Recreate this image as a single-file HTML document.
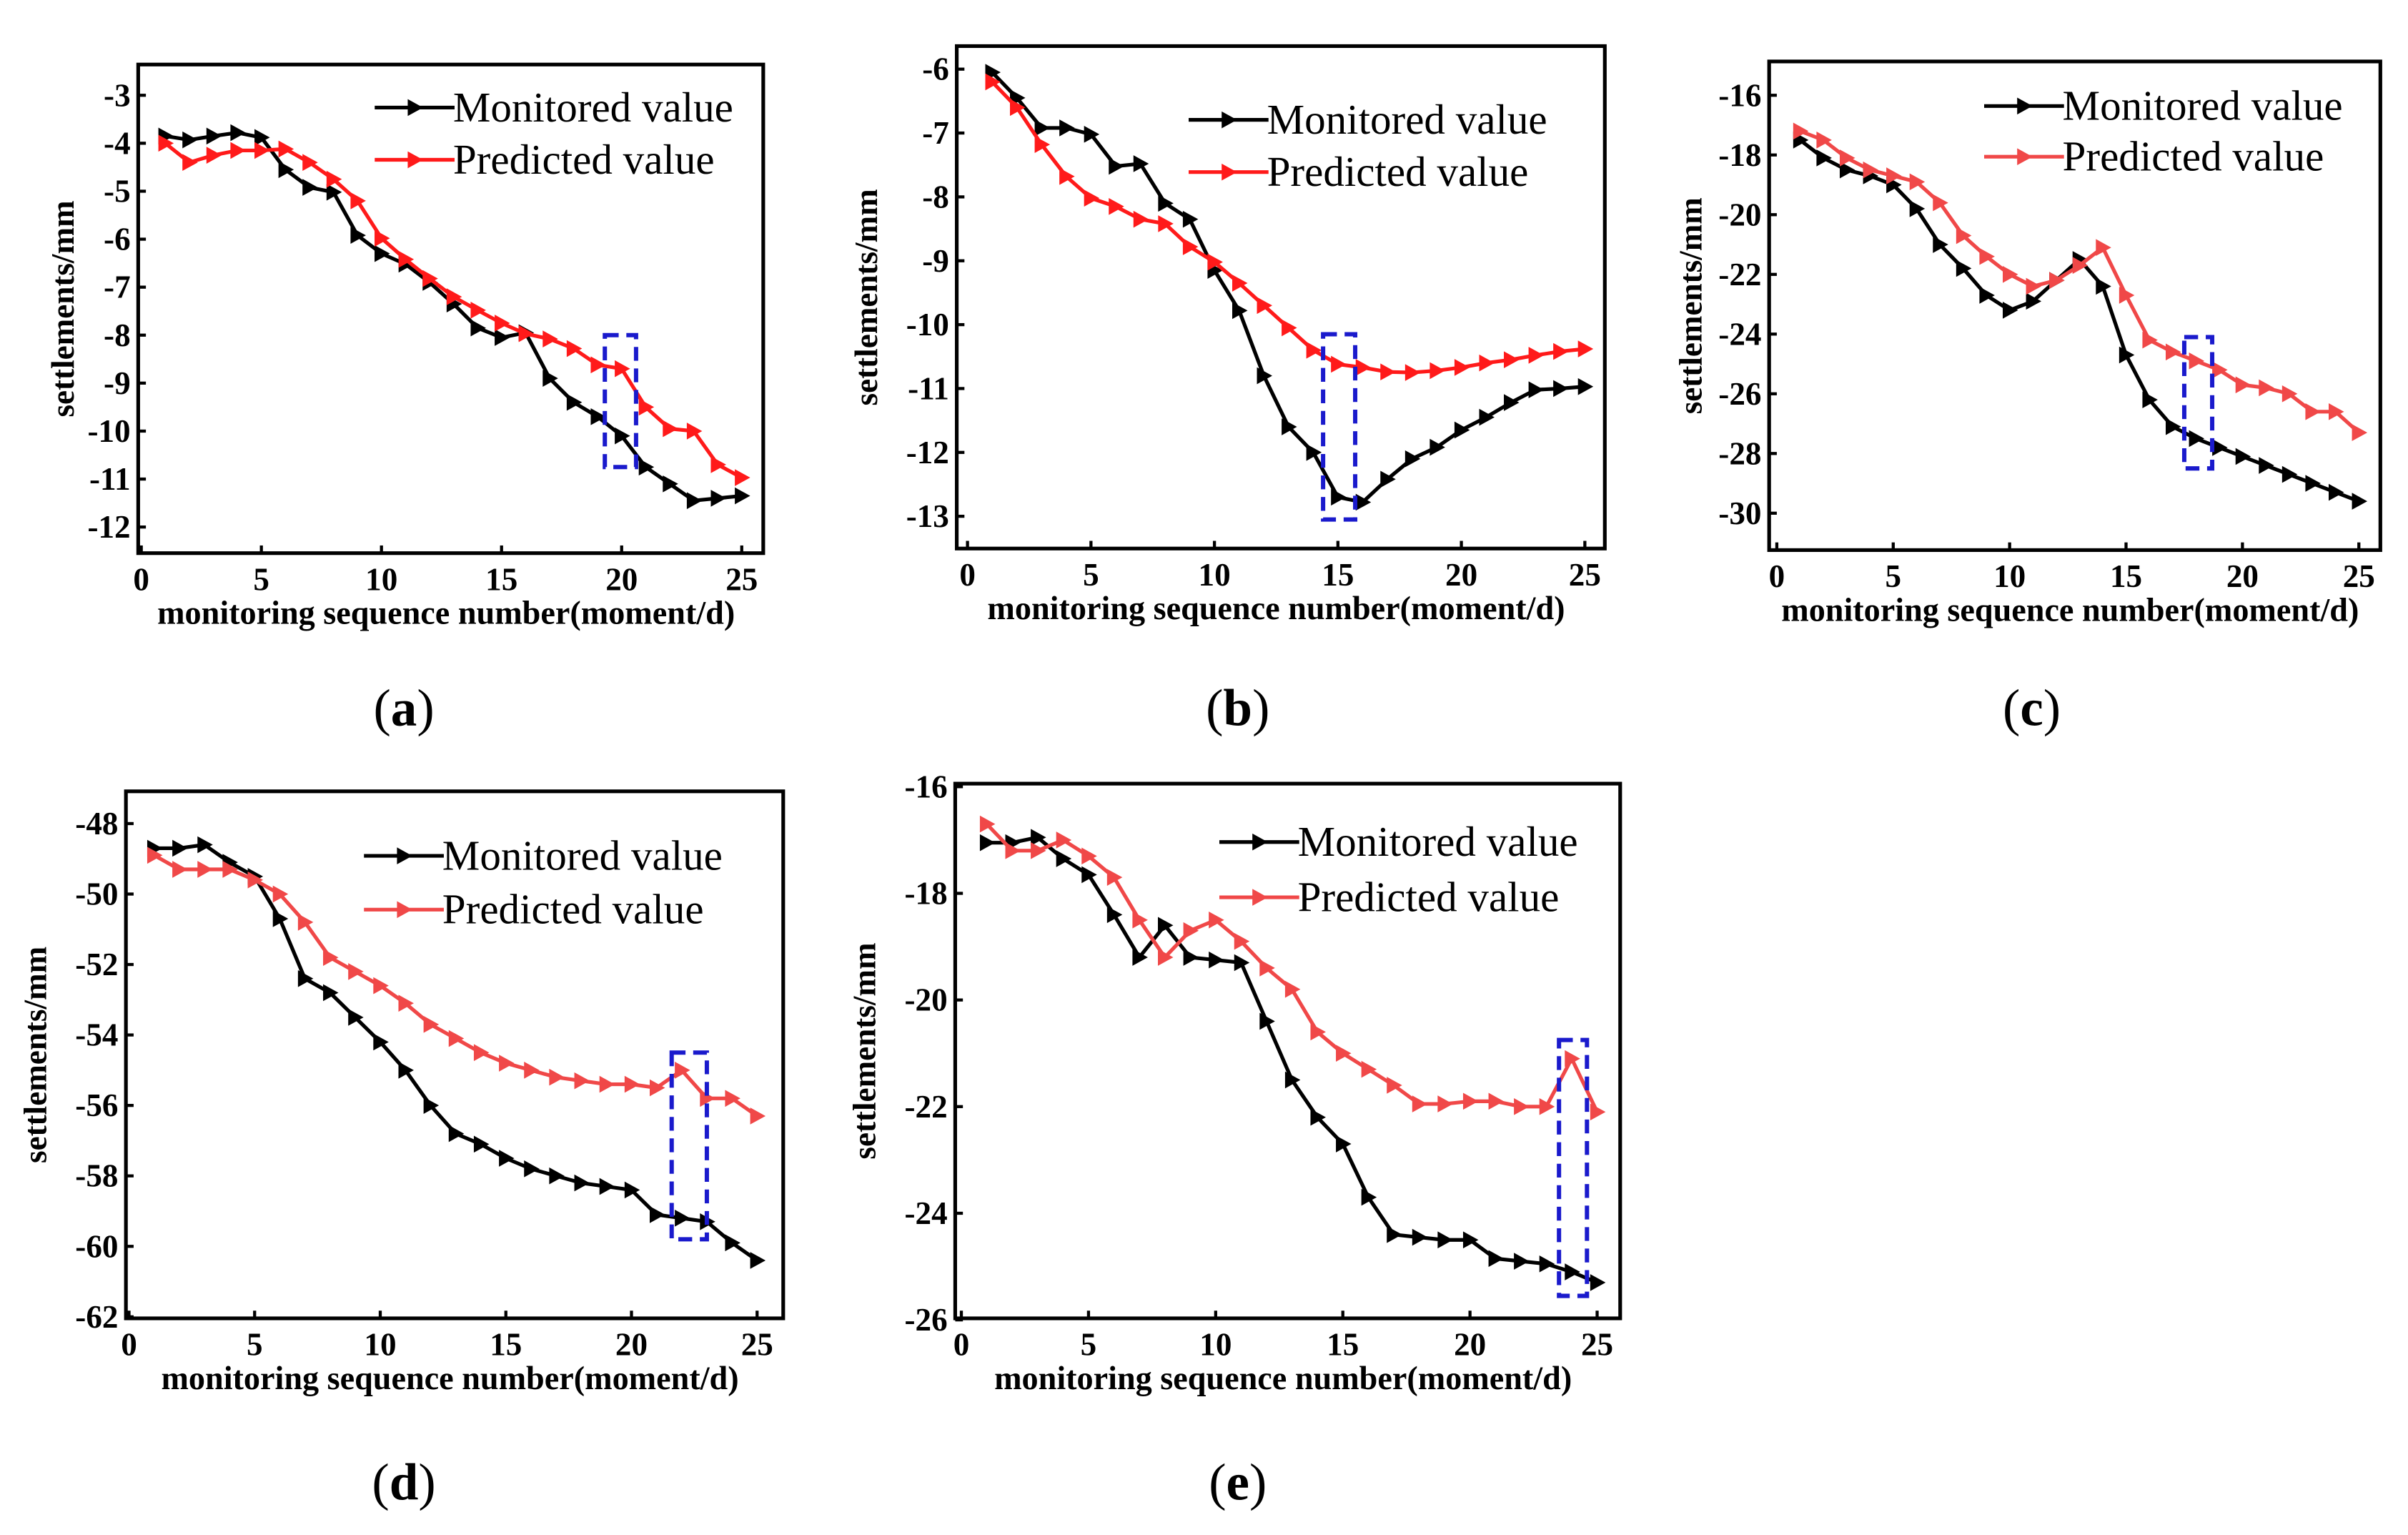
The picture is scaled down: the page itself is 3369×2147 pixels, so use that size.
<!DOCTYPE html>
<html><head><meta charset="utf-8">
<style>
html,body{margin:0;padding:0;background:#fff;}
svg{display:block;}
text{font-family:"Liberation Serif",serif;}
</style></head>
<body>
<svg id="fig" width="3369" height="2147" viewBox="0 0 1568 999" preserveAspectRatio="none" xmlns="http://www.w3.org/2000/svg"></svg>
<script>
const xTicks=[0,5,10,15,20,25];
const seqNums=[1,2,3,4,5,6,7,8,9,10,11,12,13,14,15,16,17,18,19,20,21,22,23,24,25];
const monA=[-3.85,-3.93,-3.85,-3.78,-3.88,-4.55,-4.92,-5.02,-5.92,-6.3,-6.52,-6.9,-7.35,-7.85,-8.05,-7.95,-8.9,-9.4,-9.7,-10.1,-10.75,-11.1,-11.45,-11.4,-11.35];
const preA=[-4.0,-4.4,-4.25,-4.15,-4.15,-4.12,-4.4,-4.75,-5.2,-5.98,-6.42,-6.82,-7.2,-7.48,-7.75,-7.97,-8.08,-8.28,-8.62,-8.7,-9.5,-9.95,-10.0,-10.7,-10.97];
const yTicksA=[-3,-4,-5,-6,-7,-8,-9,-10,-11,-12];
const boxA=[19.3,20.6,-8.0,-10.75];
const monB=[-6.05,-6.45,-6.92,-6.92,-7.02,-7.52,-7.48,-8.1,-8.35,-9.15,-9.78,-10.8,-11.6,-12.0,-12.7,-12.78,-12.42,-12.1,-11.92,-11.65,-11.45,-11.22,-11.02,-11.0,-10.97];
const preB=[-6.2,-6.6,-7.18,-7.68,-8.02,-8.15,-8.35,-8.42,-8.78,-9.02,-9.35,-9.7,-10.05,-10.4,-10.62,-10.67,-10.74,-10.75,-10.72,-10.67,-10.6,-10.55,-10.48,-10.42,-10.38];
const yTicksB=[-6,-7,-8,-9,-10,-11,-12,-13];
const boxB=[14.4,15.7,-10.15,-13.05];
const monC=[-17.5,-18.1,-18.5,-18.7,-19.0,-19.8,-21.0,-21.8,-22.7,-23.2,-22.9,-22.2,-21.5,-22.4,-24.7,-26.2,-27.1,-27.5,-27.8,-28.1,-28.4,-28.7,-29.0,-29.3,-29.6];
const preC=[-17.2,-17.5,-18.1,-18.5,-18.7,-18.9,-19.6,-20.7,-21.4,-22.0,-22.4,-22.2,-21.7,-21.1,-22.7,-24.2,-24.6,-24.9,-25.2,-25.7,-25.8,-26.0,-26.6,-26.6,-27.3];
const yTicksC=[-16,-18,-20,-22,-24,-26,-28,-30];
const boxC=[17.5,18.7,-24.1,-28.5];
const monD=[-48.7,-48.7,-48.6,-49.1,-49.5,-50.7,-52.4,-52.8,-53.5,-54.2,-55.0,-56.0,-56.8,-57.1,-57.5,-57.8,-58.0,-58.2,-58.3,-58.4,-59.1,-59.2,-59.3,-59.9,-60.4];
const preD=[-48.9,-49.3,-49.3,-49.3,-49.6,-50.0,-50.8,-51.8,-52.2,-52.6,-53.1,-53.7,-54.1,-54.5,-54.8,-55.0,-55.2,-55.3,-55.4,-55.4,-55.5,-55.0,-55.8,-55.8,-56.3];
const yTicksD=[-48,-50,-52,-54,-56,-58,-60,-62];
const boxD=[21.6,23.0,-54.5,-59.8];
const monE=[-17.05,-17.05,-16.95,-17.35,-17.65,-18.4,-19.2,-18.6,-19.2,-19.25,-19.3,-20.4,-21.5,-22.2,-22.7,-23.7,-24.4,-24.45,-24.5,-24.5,-24.85,-24.9,-24.95,-25.1,-25.3];
const preE=[-16.7,-17.2,-17.2,-17.0,-17.3,-17.7,-18.5,-19.2,-18.7,-18.5,-18.9,-19.4,-19.8,-20.6,-21.0,-21.3,-21.6,-21.95,-21.95,-21.9,-21.9,-22.0,-22.0,-21.1,-22.1];
const yTicksE=[-16,-18,-20,-22,-24,-26];
const boxE=[23.5,24.6,-20.75,-25.55];

const NS="http://www.w3.org/2000/svg";
const svg=document.getElementById('fig');
function mk(tag,attrs,parent){const e=document.createElementNS(NS,tag);for(const k in attrs)e.setAttribute(k,attrs[k]);(parent||svg).appendChild(e);return e;}

const panels=[
 {id:'a',mon:monA,pre:preA,yt:yTicksA,box:boxA,fx0:90,fx1:497,fy0:42,fy1:360,x0:92,x25:483,yv0:-3,yp0:62,yv1:-12,yp1:343,red:'#ff1a1a',lx:250,ly1:79,ly2:113,lab:'a',labx:263,laby:472},
 {id:'b',mon:monB,pre:preB,yt:yTicksB,box:boxB,fx0:623,fx1:1045,fy0:30,fy1:357,x0:630,x25:1032,yv0:-6,yp0:45,yv1:-13,yp1:336,red:'#ff1a1a',lx:780,ly1:87,ly2:121,lab:'b',labx:806,laby:472},
 {id:'c',mon:monC,pre:preC,yt:yTicksC,box:boxC,fx0:1152,fx1:1550,fy0:40,fy1:358,x0:1157,x25:1536,yv0:-16,yp0:62,yv1:-30,yp1:334,red:'#f04848',lx:1298,ly1:78,ly2:111,lab:'c',labx:1323,laby:472},
 {id:'d',mon:monD,pre:preD,yt:yTicksD,box:boxD,fx0:82,fx1:510,fy0:515,fy1:858,x0:84,x25:493,yv0:-48,yp0:536,yv1:-62,yp1:857,red:'#f04848',lx:243,ly1:566,ly2:601,lab:'d',labx:263,laby:976},
 {id:'e',mon:monE,pre:preE,yt:yTicksE,box:boxE,fx0:622,fx1:1055,fy0:510,fy1:858,x0:626,x25:1040,yv0:-16,yp0:512,yv1:-26,yp1:859,red:'#f04848',lx:800,ly1:557,ly2:593,lab:'e',labx:806,laby:976}
];

function tri(g,x,y,color){
  const p=mk('polygon',{points:`${x-4.5},${y-5.5} ${x+5.5},${y} ${x-4.5},${y+5.5}`,fill:color},g);
  
  
}

panels.forEach(P=>{
  const g=mk('g',{});
  
  
  const X=v=>P.x0+(v)*(P.x25-P.x0)/25;
  const Y=v=>P.yp0+(v-P.yv0)*(P.yp1-P.yp0)/(P.yv1-P.yv0);
  const frame=mk('rect',{x:P.fx0,y:P.fy0,width:P.fx1-P.fx0,height:P.fy1-P.fy0,fill:'none',stroke:'#000','stroke-width':2.4},g);
  
  
  xTicks.forEach(t=>{
    mk('line',{x1:X(t),x2:X(t),y1:P.fy1,y2:P.fy1-5,stroke:'#000','stroke-width':2},g);
    const tx=mk('text',{x:X(t),y:P.fy1+24,'font-size':21,'font-weight':'bold','text-anchor':'middle'},g);
    tx.textContent=t;
    
    
  });
  P.yt.forEach(t=>{
    mk('line',{x1:P.fx0,x2:P.fx0+5,y1:Y(t),y2:Y(t),stroke:'#000','stroke-width':2},g);
    const tx=mk('text',{x:P.fx0-5,y:Y(t)+7,'font-size':21,'font-weight':'bold','text-anchor':'end'},g);
    tx.textContent=t;
    
    
  });
  const xt=mk('text',{x:(P.fx0+P.fx1)/2-3,y:P.fy1+46,'font-size':21.5,'font-weight':'bold','text-anchor':'middle'},g);
  xt.textContent='monitoring sequence number(moment/d)';
  
  
  const ylx=P.fx0-(P.id==='a'?42:(P.id==='c'?44:52));
  const yt=mk('text',{x:ylx,y:(P.fy0+P.fy1)/2,'font-size':21,'font-weight':'bold','text-anchor':'middle',transform:`rotate(-90 ${ylx} ${(P.fy0+P.fy1)/2})`},g);
  yt.textContent='settlements/mm';
  
  
  [[P.mon,'#000','monitored'],[P.pre,P.red,'predicted']].forEach(([arr,col,nm])=>{
    const pts=arr.map((v,i)=>X(seqNums[i])+','+Y(v)).join(' ');
    const pl=mk('polyline',{points:pts,fill:'none',stroke:col,'stroke-width':2.4},g);
    
    
    arr.forEach((v,i)=>tri(g,X(seqNums[i]),Y(v),col));
  });
  const b=P.box;
  const br=mk('rect',{x:X(b[0]),y:Y(b[2]),width:X(b[1])-X(b[0]),height:Y(b[3])-Y(b[2]),fill:'none',stroke:'#1a1acc','stroke-width':2.8,'stroke-dasharray':'9,5'},g);
  
  
  [[P.ly1,'#000','Monitored value'],[P.ly2,P.red,'Predicted value']].forEach(([ly,col,label])=>{
    const le=mk('g',{},g);
    
    
    mk('line',{x1:P.lx-6,x2:P.lx+46,y1:ly-9,y2:ly-9,stroke:col,'stroke-width':2.4},le);
    tri(le,P.lx+20,ly-9,col);
    const t=mk('text',{x:P.lx+45,y:ly,'font-size':27.5},le);
    t.textContent=label;
  });
  const lt=mk('text',{x:P.labx,y:P.laby,'font-size':34,'text-anchor':'middle'},g);
  lt.innerHTML='(<tspan font-weight="bold">'+P.lab+'</tspan>)';
  
  
});
</script>
</body></html>
